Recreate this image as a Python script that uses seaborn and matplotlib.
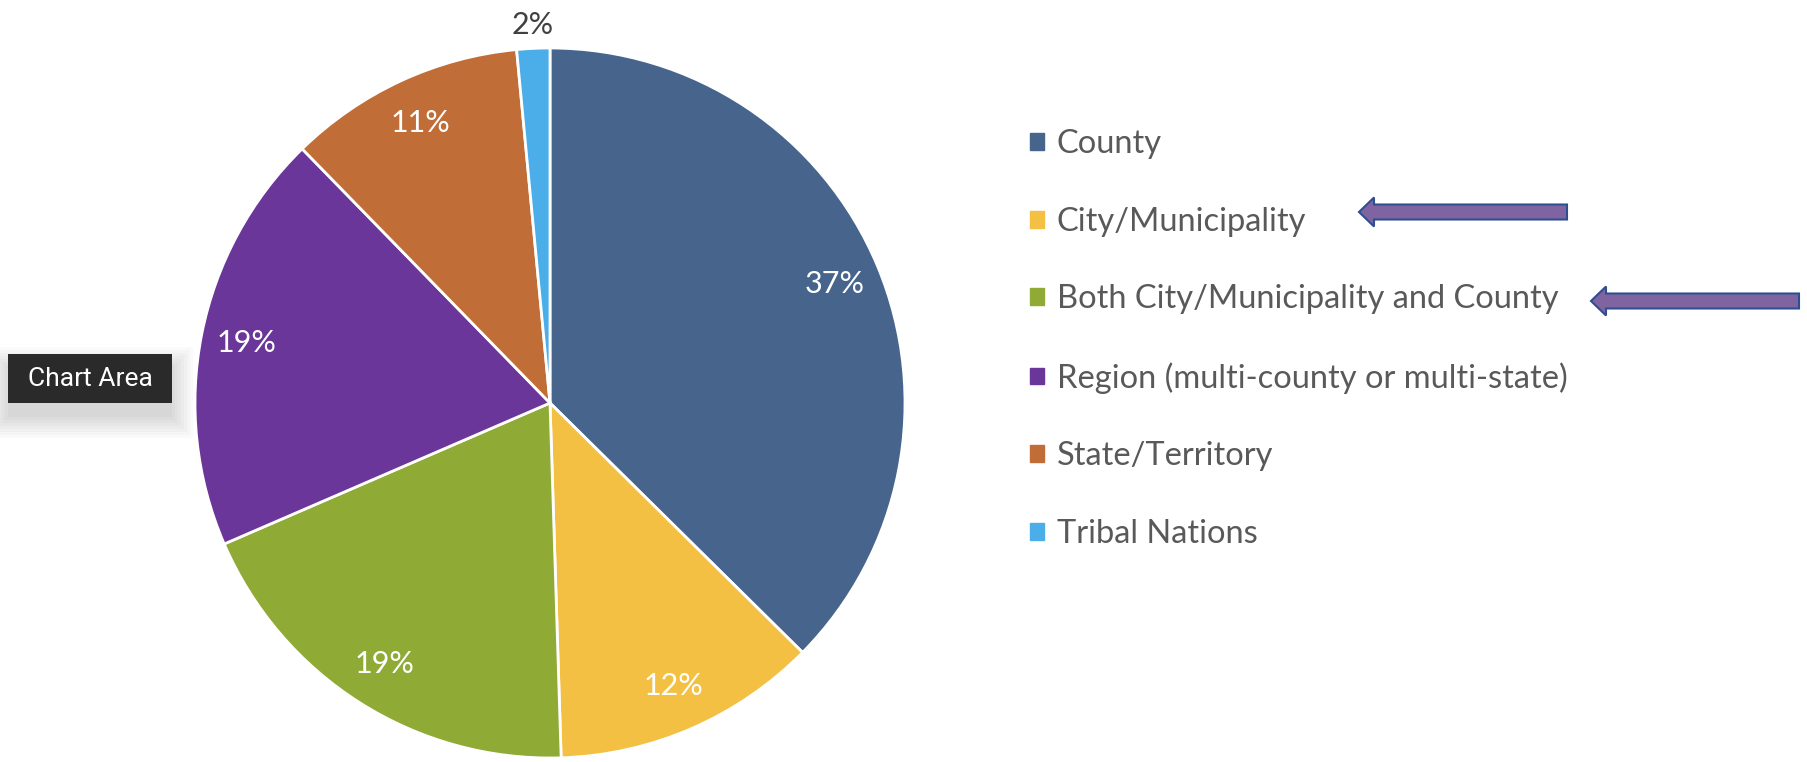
import matplotlib
matplotlib.use("Agg")
import matplotlib.pyplot as plt
import matplotlib.patches as mpatches
import numpy as np
import seaborn as sns

# -------------------------
# data
# -------------------------
categories = ["County", "City/Municipality", "Both City/Municipality and County",
              "Region (multi-county or multi-state)", "State/Territory", "Tribal Nations"]
shares = [37.4, 12.1, 19.0, 19.2, 10.8, 1.5]
pct_labels = ["37%", "12%", "19%", "19%", "11%", "2%"]
colors = ["#46648C", "#F4C043", "#8FAB36", "#6A3699", "#C06D37", "#4BAEE8"]

sns.set_theme(style="white")
plt.rcParams["font.family"] = ["Lato", "DejaVu Sans"]

W, H = 1807, 762
fig = plt.figure(figsize=(W / 100, H / 100), dpi=100)
ax = fig.add_axes([0, 0, 1, 1])

# -------------------------
# pie
# -------------------------
pal = sns.color_palette(colors)
cx, cy, r = 550, H - 403, 355
wedges, _ = ax.pie(shares, colors=pal, startangle=90, counterclock=False,
                   center=(cx, cy), radius=r, frame=True,
                   wedgeprops=dict(edgecolor="white", linewidth=2))
ax.set_xlim(0, W)
ax.set_ylim(0, H)
ax.set_aspect("equal")
ax.axis("off")

for w, lab in zip(wedges, pct_labels):
    ang = np.deg2rad((w.theta1 + w.theta2) / 2)
    if lab == "2%":
        d, col = 1.065, "#404040"
    else:
        d, col = 0.87, "white"
    ax.text(cx + d * r * np.cos(ang), cy + d * r * np.sin(ang), lab,
            ha="center", va="center", color=col, fontsize=22)

# -------------------------
# legend
# -------------------------
handles = [mpatches.Rectangle((0, 0), 1, 1, color=c) for c in pal]
ax.legend(handles, categories, loc="center left", bbox_to_anchor=(1030, H - 339),
          bbox_transform=ax.transData, frameon=False, fontsize=23.5,
          handlelength=0.42, handleheight=0.42, handletextpad=0.4,
          labelspacing=1.46, borderpad=0, borderaxespad=0, labelcolor="#595959")

# -------------------------
# arrows pointing at two entries
# -------------------------
for x0, x1, y in [(1567, 1359, 212), (1799, 1591, 301)]:
    ax.arrow(x0, H - y, x1 - x0, 0, width=15, head_width=29, head_length=15,
             length_includes_head=True, fc="#8064A2", ec="#2E4F8F", lw=1.5)

# -------------------------
# "Chart Area" tooltip
# -------------------------
for k in range(8):
    pad = 3 * k
    ax.add_patch(mpatches.Rectangle((8 - pad, H - 403 - 14 - pad), 164 + 2 * pad, 49 + 2 * pad,
                                    fc="black", ec="none", alpha=0.018, zorder=4))
ax.add_patch(mpatches.Rectangle((8, H - 403), 164, 49, fc="#2A2A2A", ec="none", zorder=5))
ax.text(90, H - 379, "Chart Area", ha="center", va="center", color="white",
        fontsize=19, family=["Roboto", "DejaVu Sans"], zorder=6)

fig.savefig("out.png", dpi=100)
